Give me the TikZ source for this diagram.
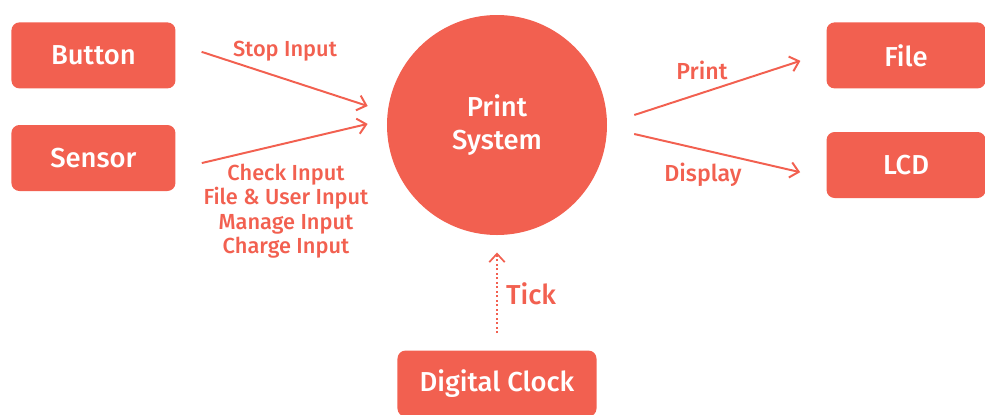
\documentclass[tikz,border=0pt]{standalone}
\usepackage{fontspec}
\setmainfont{Fira Sans}[BoldFont={Fira Sans Medium}]
\usepackage{tikz}
\usetikzlibrary{positioning,arrows.meta}

\definecolor{coral}{RGB}{242,96,80}

\tikzset{
	block/.style={fill=coral, text=white, rounded corners=0.2cm, minimum height=1.65cm, font=\bfseries\fontsize{19.5}{23.4}\selectfont},
	hub/.style={circle, fill=coral, text=white, minimum size=5.5cm, align=center, font=\bfseries\fontsize{19.5}{23.4}\selectfont},
	lbl/.style={text=coral, inner sep=0pt, align=center, font=\bfseries\fontsize{15.5}{17.4}\selectfont},
	flow/.style={draw=coral, line width=1.4pt, -{Straight Barb[length=6pt, width=11pt]}},
	tickflow/.style={flow, line width=1.2pt, dotted},
}

\begin{document}
\begin{tikzpicture}
	\useasboundingbox (-12.425,3.125) rectangle (12.2,-7.225);

	%% SYSTEM
	\node[hub](psys) at (0,0){Print\\System};

	%% INPUTS
	\node[block, minimum width=4.1cm, left=5.275cm of psys, yshift=1.74cm](button){Button};
	\node[block, minimum width=4.1cm, left=5.275cm of psys, yshift=-0.825cm](sensor){Sensor};

	%% OUTPUTS
	\node[block, minimum width=3.975cm, right=5.475cm of psys, yshift=1.74cm](file){File};
	\node[block, minimum width=3.975cm, right=5.475cm of psys, yshift=-1cm](lcd){LCD};

	%% CLOCK
	\node[block, minimum width=4.975cm, below=2.875cm of psys](clock){Digital Clock};

	% flows
	\draw[flow, shorten <=0.68cm, shorten >=0.5cm] ([yshift=0.3cm]button.east) -- ([yshift=0.32cm]psys.west);
	\draw[flow, shorten <=0.67cm, shorten >=0.49cm] ([yshift=-0.28cm]sensor.east) -- ([yshift=0.14cm]psys.west);
	\draw[flow, shorten <=0.71cm, shorten >=0.68cm] ([yshift=0.03cm]psys.east) -- ([yshift=0.075cm]file.west);
	\draw[flow, shorten <=0.69cm, shorten >=0.67cm] ([yshift=-0.07cm]psys.east) -- ([yshift=-0.33cm]lcd.west);
	\draw[tickflow, shorten <=0.43cm, shorten >=0.43cm] (clock.north) -- (psys.south);

	% labels
	\node[lbl, anchor=base](stop_lbl) at ([shift={(-5.3,1.725)}]psys.center){Stop Input};
	\node[lbl](check_lbl) at ([shift={(-5.275,-2.15)}]psys.center){Check Input\\File \& User Input\\Manage Input\\Charge Input};
	\node[lbl, anchor=base, font=\bfseries\fontsize{16.5}{20}\selectfont](print_lbl) at ([shift={(5.125,1.15)}]psys.center){Print};
	\node[lbl, anchor=base, font=\bfseries\fontsize{16.5}{20}\selectfont](display_lbl) at ([shift={(5.15,-1.4)}]psys.center){Display};
	\node[lbl, anchor=base, font=\bfseries\fontsize{19.5}{22}\selectfont](tick_lbl) at ([shift={(0.85,-4.475)}]psys.center){Tick};

\end{tikzpicture}
\end{document}
